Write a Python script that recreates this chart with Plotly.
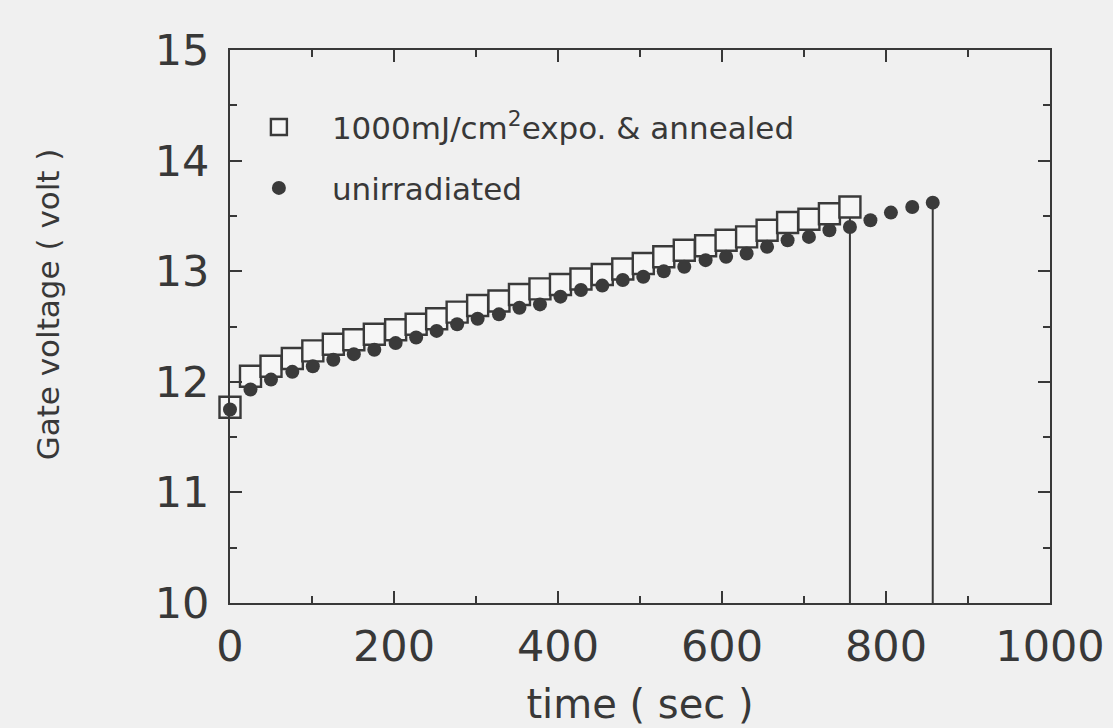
import plotly.graph_objects as go

# time points (sec)
time_annealed = [0, 25, 50, 76, 101, 126, 151, 176, 202, 227, 252, 277, 302, 328, 353, 378,
                 403, 428, 454, 479, 504, 529, 554, 580, 605, 630, 655, 680, 706, 731, 756]
gate_annealed = [11.77, 12.05, 12.14, 12.21, 12.28, 12.34, 12.38, 12.43, 12.47, 12.52, 12.57,
                 12.63, 12.69, 12.73, 12.79, 12.84, 12.88, 12.93, 12.97, 13.02, 13.07, 13.13,
                 13.19, 13.23, 13.28, 13.31, 13.37, 13.44, 13.47, 13.52, 13.58]

time_unirr = [0, 25, 50, 76, 101, 126, 151, 176, 202, 227, 252, 277, 302, 328, 353, 378,
              403, 428, 454, 479, 504, 529, 554, 580, 605, 630, 655, 680, 706, 731, 756,
              781, 806, 832, 857]
gate_unirr = [11.75, 11.93, 12.02, 12.09, 12.14, 12.20, 12.25, 12.29, 12.35, 12.40, 12.46,
              12.52, 12.57, 12.61, 12.67, 12.70, 12.77, 12.83, 12.87, 12.92, 12.95, 13.00,
              13.04, 13.10, 13.13, 13.16, 13.22, 13.28, 13.31, 13.37, 13.40, 13.46, 13.53,
              13.58, 13.62]

x_ticks = [0, 200, 400, 600, 800, 1000]
y_ticks = [10, 11, 12, 13, 14, 15]
X_RANGE = [0, 1000]
Y_RANGE = [10, 15]

label_annealed = "1000mJ/cm<sup>2</sup>expo. & annealed"
label_unirr = "unirradiated"
x_title = "time ( sec )"
y_title = "Gate voltage ( volt )"

INK = "#383838"
BG = "#f0f0f0"
FONT = "DejaVu Sans"

fig = go.Figure()

# drop lines from the last point of each series down to the x axis
fig.add_trace(go.Scatter(x=[time_annealed[-1], time_annealed[-1]],
                         y=[gate_annealed[-1], Y_RANGE[0]],
                         mode="lines", line=dict(color=INK, width=2),
                         showlegend=False, hoverinfo="skip"))
fig.add_trace(go.Scatter(x=[time_unirr[-1], time_unirr[-1]],
                         y=[gate_unirr[-1], Y_RANGE[0]],
                         mode="lines", line=dict(color=INK, width=2),
                         showlegend=False, hoverinfo="skip"))

fig.add_trace(go.Scatter(x=time_annealed, y=gate_annealed, mode="markers",
                         name=label_annealed, legend="legend",
                         marker=dict(symbol="square", size=21, color="#f6f6f6",
                                     line=dict(color="#3a3a3a", width=2.4)),
                         cliponaxis=False))
fig.add_trace(go.Scatter(x=time_unirr, y=gate_unirr, mode="markers",
                         name=label_unirr, legend="legend2",
                         marker=dict(symbol="circle", size=14, color="#3a3a3a",
                                     line=dict(color="#3a3a3a", width=0)),
                         cliponaxis=False))

axis_common = dict(showline=True, linecolor=INK, linewidth=2, mirror="allticks",
                   ticks="inside", tickcolor=INK, tickwidth=2, ticklen=12,
                   showgrid=False, zeroline=False, automargin=False,
                   tickfont=dict(family=FONT, size=43, color=INK))

fig.update_xaxes(range=X_RANGE, tickvals=x_ticks, ticktext=[str(v) for v in x_ticks],
                 minor=dict(ticks="inside", dtick=100, ticklen=7, tickwidth=2, tickcolor=INK),
                 ticklabelstandoff=4,
                 title=dict(text=x_title, font=dict(family=FONT, size=40, color=INK),
                            standoff=20),
                 **axis_common)
fig.update_yaxes(range=Y_RANGE, tickvals=y_ticks, ticktext=[str(v) for v in y_ticks],
                 minor=dict(ticks="inside", dtick=0.5, ticklen=7, tickwidth=2, tickcolor=INK),
                 ticklabelstandoff=10,
                 **axis_common)

fig.add_annotation(text=y_title, xref="paper", yref="paper", x=-0.222, y=0.54,
                   xanchor="center", yanchor="middle", textangle=-90, showarrow=False,
                   font=dict(family=FONT, size=31, color=INK))

legend_common = dict(bgcolor="rgba(0,0,0,0)", borderwidth=0,
                     font=dict(family=FONT, size=31, color=INK),
                     xanchor="left", yanchor="middle", itemwidth=96)

fig.update_layout(
    width=1113, height=728,
    margin=dict(l=230, r=63, t=50, b=125, autoexpand=False),
    paper_bgcolor=BG, plot_bgcolor=BG,
    legend=dict(x=-0.005, y=0.86, **legend_common),
    legend2=dict(x=-0.005, y=0.75, **legend_common),
)

fig.write_html("out.html")
